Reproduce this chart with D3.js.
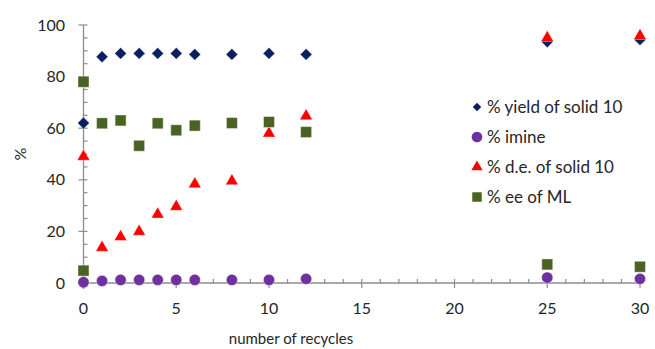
<!DOCTYPE html>
<html><head><meta charset="utf-8">
<script src="https://cdn.jsdelivr.net/npm/d3@7"></script>
<style>body{margin:0;background:#fff}svg{display:block}text{font-family:Lato,"Open Sans",sans-serif;fill:#262626}</style>
</head><body><svg id="c" width="655" height="349"></svg>
<script>
const seriesNames = ["% yield of solid 10", "% imine", "% d.e. of solid 10", "% ee of ML"];
const yieldX = [0, 0, 1, 2, 3, 4, 5, 6, 8, 10, 12, 25, 30];
const yieldY = [62, 0, 87.7, 89, 89, 89, 89, 88.6, 88.6, 89, 88.6, 93.5, 94.3];
const imineX = [0, 1, 2, 3, 4, 5, 6, 8, 10, 12, 25, 30];
const imineY = [0.3, 0.8, 1.2, 1.2, 1.2, 1.2, 1.2, 1.2, 1.2, 1.6, 2.1, 1.6];
const deX = [0, 1, 2, 3, 4, 5, 6, 8, 10, 12, 25, 30];
const deY = [49, 13.7, 17.9, 19.9, 26.6, 29.6, 38.3, 39.5, 58, 64.7, 95, 95.8];
const eeX = [0, 0, 1, 2, 3, 4, 5, 6, 8, 10, 12, 25, 30];
const eeY = [78, 4.8, 61.9, 63, 53.2, 61.9, 59.2, 61, 62, 62.4, 58.5, 7.2, 6.3];
const xTicks = [0, 5, 10, 15, 20, 25, 30];
const yTicks = [0, 20, 40, 60, 80, 100];
const colors = ["#0c1f5e", "#7030a0", "#ff0000", "#4a6322"];

const svg = d3.select("#c");
const x = d3.scaleLinear().domain([0, 30]).range([83.5, 640]);
const y = d3.scaleLinear().domain([0, 100]).range([283, 25]);
const axisCol = "#8c8c8c";

// y axis
const ya = svg.append("g");
ya.append("line").attr("x1", x(0)).attr("x2", x(0)).attr("y1", y(0)).attr("y2", y(100)).attr("stroke", axisCol).attr("stroke-width", 1.3);
d3.range(0, 101, 5).forEach(v => {
  const major = v % 20 === 0;
  ya.append("line").attr("x1", major ? x(0) - 5 : x(0)).attr("x2", x(0) + 4)
    .attr("y1", y(v)).attr("y2", y(v)).attr("stroke", axisCol).attr("stroke-width", 1.2);
});
yTicks.forEach(v => ya.append("text").attr("x", 65).attr("y", y(v)).attr("dy", "0.35em")
  .attr("text-anchor", "end").attr("font-size", 16).text(v));

// x axis
const xa = svg.append("g");
xa.append("line").attr("x1", x(0)).attr("x2", x(30)).attr("y1", y(0)).attr("y2", y(0)).attr("stroke", axisCol).attr("stroke-width", 1.3);
d3.range(0, 31, 1).forEach(v => {
  const major = v % 5 === 0;
  xa.append("line").attr("x1", x(v)).attr("x2", x(v)).attr("y1", y(0) - 4).attr("y2", major ? y(0) + 5 : y(0))
    .attr("stroke", axisCol).attr("stroke-width", 1.2);
});
xTicks.forEach(v => xa.append("text").attr("x", x(v)).attr("y", 308).attr("dy", "0.35em")
  .attr("text-anchor", "middle").attr("font-size", 16).text(v));

svg.append("text").attr("x", 291).attr("y", 339).attr("dy", "0.3em").attr("text-anchor", "middle")
  .attr("font-size", 15).text("number of recycles");
svg.append("text").attr("transform", "translate(20,154) rotate(-90)").attr("dy", "0.35em")
  .attr("text-anchor", "middle").attr("font-size", 16).text("%");

// symbols
const sym = [
  {type: d3.symbolSquare, size: 70, rot: 45},
  {type: d3.symbolCircle, size: 100, rot: 0},
  {type: d3.symbolTriangle, size: 70, rot: 0},
  {type: d3.symbolSquare, size: 120, rot: 0}
];
const data = [[yieldX, yieldY], [imineX, imineY], [deX, deY], [eeX, eeY]];
data.forEach((d, i) => {
  const pts = d[0].map((xv, j) => [xv, d[1][j]]);
  svg.append("g").selectAll("path").data(pts).join("path")
    .attr("d", d3.symbol().type(sym[i].type).size(sym[i].size))
    .attr("transform", p => `translate(${x(p[0])},${y(p[1])}) rotate(${sym[i].rot})`)
    .attr("fill", colors[i]).attr("stroke", "#fff").attr("stroke-width", 0.4);
});

// legend
const lg = svg.append("g");
const lsizes = [36, 90, 55, 90];
seriesNames.forEach((n, i) => {
  const ly = 107 + i * 30;
  lg.append("path").attr("d", d3.symbol().type(sym[i].type).size(lsizes[i]))
    .attr("transform", `translate(477,${ly}) rotate(${sym[i].rot})`).attr("fill", colors[i]);
  lg.append("text").attr("x", 487).attr("y", ly).attr("dy", "0.35em").attr("font-size", 17).text(n);
});
</script></body></html>
